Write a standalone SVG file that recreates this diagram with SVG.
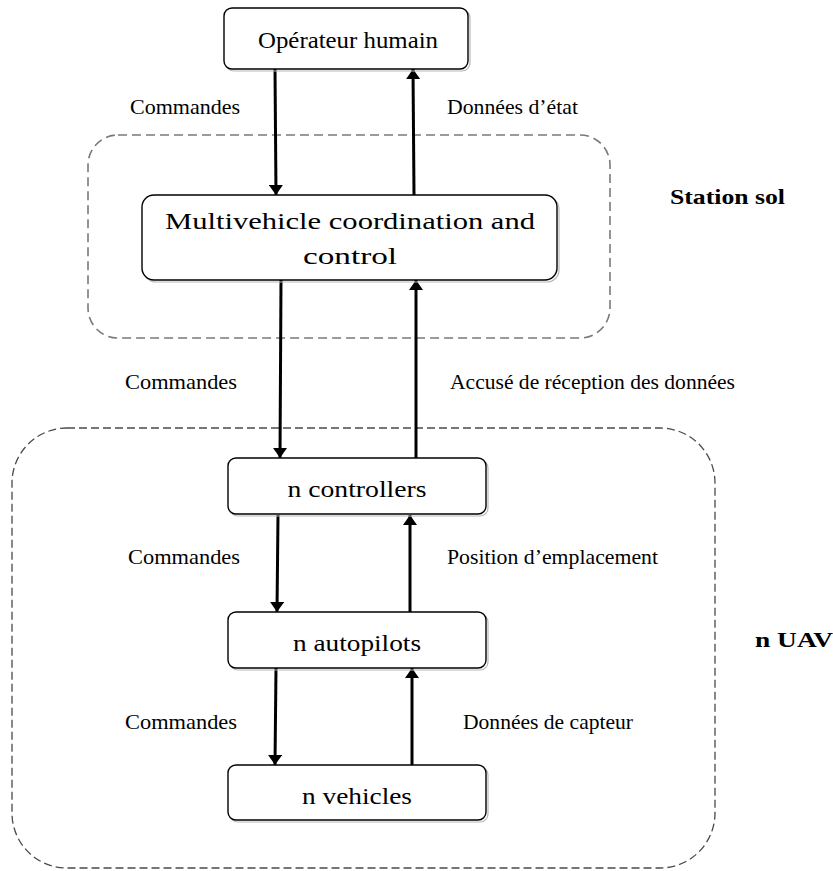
<svg xmlns="http://www.w3.org/2000/svg" width="833" height="871" viewBox="0 0 833 871">
  <style>
    .node rect.box { fill: #ffffff; stroke: #000000; stroke-width: 1.4; }
    .node rect.shadow { fill: none; stroke: #b8b8b8; stroke-width: 1.2; }
    .node text { font-family: 'Liberation Serif', 'DejaVu Serif', serif; font-size: 24px; fill: #000; text-anchor: middle; }
    .lbl { font-family: 'Liberation Serif', 'DejaVu Serif', serif; font-size: 21px; fill: #000; }
    .grp { font-family: 'Liberation Serif', 'DejaVu Serif', serif; font-size: 21px; font-weight: bold; fill: #000; }
    .edge { stroke: #000; stroke-width: 3; fill: none; marker-end: url(#arrow); }
    .zone1 { fill: none; stroke: #7a7a7a; stroke-width: 1.6; stroke-dasharray: 9 5; }
    .zone2 { fill: none; stroke: #4a4a4a; stroke-width: 1.3; stroke-dasharray: 8 4; }
  </style>
  <defs>
    <marker id="arrow" viewBox="0 0 10 14" refX="10" refY="7" markerWidth="10" markerHeight="14" markerUnits="userSpaceOnUse" orient="auto">
      <path d="M0,0 L10,7 L0,14 z" fill="#000"/>
    </marker>
  </defs>
  <rect width="833" height="871" fill="#ffffff"/>

  <!-- grouping zones -->
  <g id="zone-station-sol">
    <rect class="zone1" x="88" y="135" width="522" height="203" rx="30" ry="30"/>
    <text class="grp" x="670" y="204" textLength="115" lengthAdjust="spacingAndGlyphs">Station sol</text>
  </g>
  <g id="zone-n-uav">
    <rect class="zone2" x="12" y="428" width="703" height="440" rx="55" ry="55"/>
    <text class="grp" x="755" y="647" textLength="78" lengthAdjust="spacingAndGlyphs">n UAV</text>
  </g>

  <!-- connectors -->
  <g id="connectors">
    <line class="edge" x1="275" y1="69" x2="276" y2="195"/>
    <line class="edge" x1="414" y1="195" x2="413" y2="69"/>
    <line class="edge" x1="281" y1="280" x2="280" y2="458"/>
    <line class="edge" x1="416" y1="458" x2="416" y2="280"/>
    <line class="edge" x1="278" y1="515" x2="277" y2="612"/>
    <line class="edge" x1="410" y1="612" x2="410" y2="515"/>
    <line class="edge" x1="276" y1="668" x2="275" y2="765"/>
    <line class="edge" x1="412" y1="765" x2="412" y2="668"/>

    <text class="lbl" x="130" y="114" textLength="110" lengthAdjust="spacingAndGlyphs">Commandes</text>
    <text class="lbl" x="447" y="114" textLength="131" lengthAdjust="spacingAndGlyphs">Données d’état</text>
    <text class="lbl" x="125" y="389" textLength="112" lengthAdjust="spacingAndGlyphs">Commandes</text>
    <text class="lbl" x="450" y="389" textLength="285" lengthAdjust="spacingAndGlyphs">Accusé de réception des données</text>
    <text class="lbl" x="128" y="564" textLength="112" lengthAdjust="spacingAndGlyphs">Commandes</text>
    <text class="lbl" x="447" y="564" textLength="211" lengthAdjust="spacingAndGlyphs">Position d’emplacement</text>
    <text class="lbl" x="125" y="729" textLength="112" lengthAdjust="spacingAndGlyphs">Commandes</text>
    <text class="lbl" x="463" y="729" textLength="170" lengthAdjust="spacingAndGlyphs">Données de capteur</text>
  </g>

  <!-- nodes -->
  <g id="operateur" class="node">
    <rect class="shadow" x="226" y="10" width="244" height="61" rx="8"/>
    <rect class="box" x="224" y="8" width="244" height="61" rx="8"/>
    <text x="348" y="48" textLength="180" lengthAdjust="spacingAndGlyphs">Opérateur humain</text>
  </g>
  <g id="coordination" class="node">
    <rect class="shadow" x="144" y="197" width="415" height="85" rx="12"/>
    <rect class="box" x="142" y="195" width="415" height="85" rx="12"/>
    <text x="350" y="229" textLength="370" lengthAdjust="spacingAndGlyphs">Multivehicle coordination and</text>
    <text x="350" y="264" textLength="94" lengthAdjust="spacingAndGlyphs">control</text>
  </g>
  <g id="controllers" class="node">
    <rect class="shadow" x="230" y="460" width="258" height="56" rx="8"/>
    <rect class="box" x="228" y="458" width="258" height="56" rx="8"/>
    <text x="357" y="497" textLength="139" lengthAdjust="spacingAndGlyphs">n controllers</text>
  </g>
  <g id="autopilots" class="node">
    <rect class="shadow" x="230" y="614" width="258" height="56" rx="8"/>
    <rect class="box" x="228" y="612" width="258" height="56" rx="8"/>
    <text x="357" y="651" textLength="128" lengthAdjust="spacingAndGlyphs">n autopilots</text>
  </g>
  <g id="vehicles" class="node">
    <rect class="shadow" x="230" y="767" width="258" height="55" rx="8"/>
    <rect class="box" x="228" y="765" width="258" height="55" rx="8"/>
    <text x="357" y="804" textLength="110" lengthAdjust="spacingAndGlyphs">n vehicles</text>
  </g>
</svg>
